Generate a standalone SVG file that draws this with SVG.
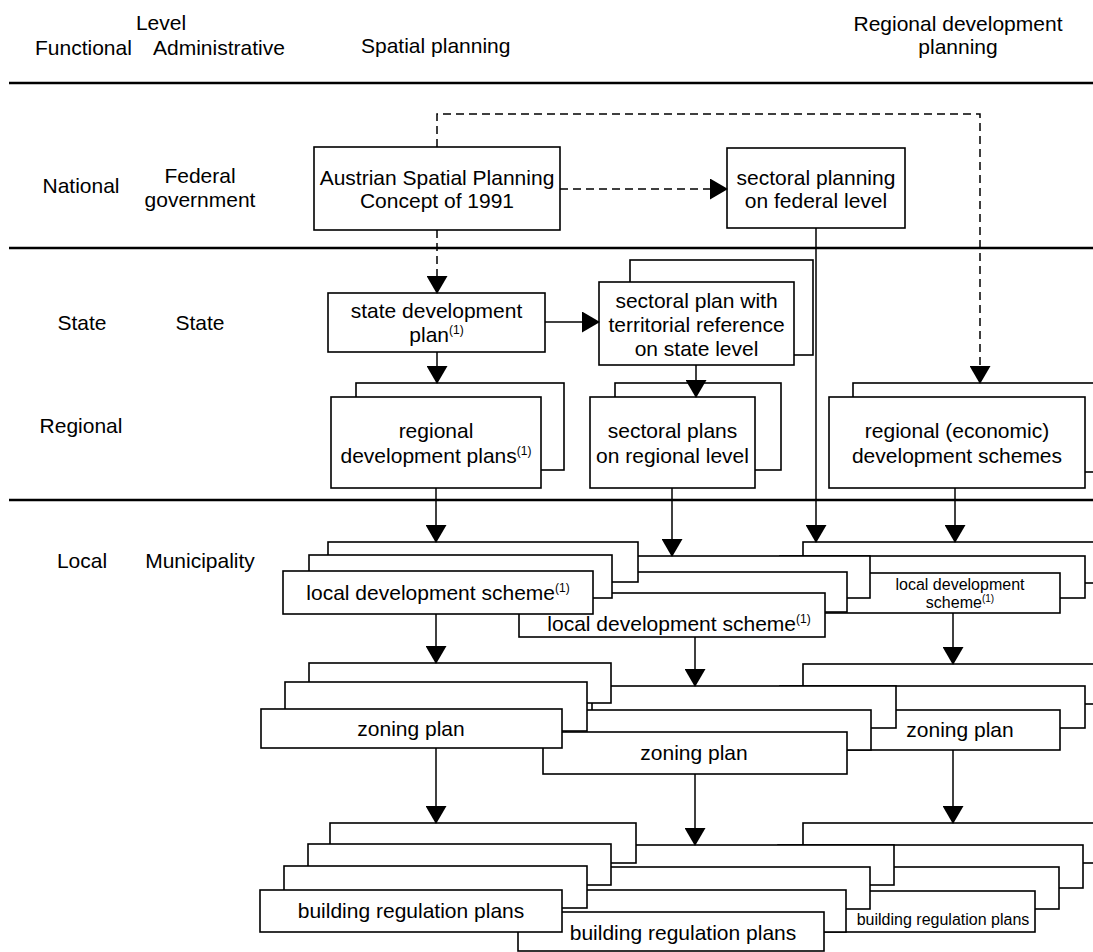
<svg xmlns="http://www.w3.org/2000/svg" width="1093" height="952" viewBox="0 0 1093 952">
<defs>
  <marker id="ah" markerUnits="userSpaceOnUse" markerWidth="18" markerHeight="21" viewBox="0 0 18 21" refX="17" refY="10.5" orient="auto">
    <path d="M0,0 L18,10.5 L0,21 Z" fill="#000"/>
  </marker>
</defs>
<style>
  .t{font-family:"Liberation Sans",Arial,Helvetica,sans-serif;font-size:21px;fill:#000}
  .s{font-size:16px}
  .c{text-anchor:middle}
  .b{fill:#fff;stroke:#000;stroke-width:1.6}
  .ln{fill:none;stroke:#000;stroke-width:2.4}
  .k{fill:none;stroke:#000;stroke-width:1.5}
  .d{stroke-dasharray:8 5}
  .a{marker-end:url(#ah)}
</style>
<rect width="1093" height="952" fill="#fff"/>

<!-- column headings -->
<g id="headings" class="t">
  <text x="161" y="30" class="c">Level</text>
  <text x="35" y="55">Functional</text>
  <text x="153" y="55">Administrative</text>
  <text x="361" y="53">Spatial planning</text>
  <text x="958" y="31" class="c">Regional development</text>
  <text x="958" y="54" class="c">planning</text>
</g>

<!-- level labels -->
<g id="levels" class="t c">
  <text x="81" y="193">National</text>
  <text x="200" y="183">Federal</text>
  <text x="200" y="207">government</text>
  <text x="82" y="330">State</text>
  <text x="200" y="330">State</text>
  <text x="81" y="433">Regional</text>
  <text x="82" y="568">Local</text>
  <text x="200" y="568">Municipality</text>
</g>

<!-- horizontal dividers -->
<g id="dividers" class="ln">
  <path d="M9,83 H1093"/>
  <path d="M9,248 H1093"/>
  <path d="M9,500 H1093"/>
</g>

<!-- national level -->
<g id="austrian-concept">
  <rect class="b" x="314" y="147" width="246" height="83"/>
  <text class="t c" x="437" y="185">Austrian Spatial Planning</text>
  <text class="t c" x="437" y="208">Concept of 1991</text>
</g>
<g id="sectoral-federal">
  <rect class="b" x="727" y="148" width="178" height="80"/>
  <text class="t c" x="816" y="185">sectoral planning</text>
  <text class="t c" x="816" y="208">on federal level</text>
</g>

<!-- state level -->
<g id="state-development-plan">
  <rect class="b" x="328" y="293" width="217" height="59"/>
  <text class="t c" x="436.5" y="318">state development</text>
  <text class="t c" x="436.5" y="342">plan<tspan font-size="12" dy="-8">(1)</tspan></text>
</g>
<g id="sectoral-state">
  <rect class="b" x="630" y="260" width="183" height="95"/>
  <rect class="b" x="599" y="282" width="195" height="83"/>
  <text class="t c" x="696.5" y="308">sectoral plan with</text>
  <text class="t c" x="696.5" y="332">territorial reference</text>
  <text class="t c" x="696.5" y="356">on state level</text>
</g>

<!-- regional level -->
<g id="regional-development-plans">
  <rect class="b" x="356" y="383" width="208" height="87"/>
  <rect class="b" x="331" y="397" width="210" height="91"/>
  <text class="t c" x="436" y="438">regional</text>
  <text class="t c" x="436" y="463">development plans<tspan font-size="12" dy="-8">(1)</tspan></text>
</g>
<g id="sectoral-regional">
  <rect class="b" x="615" y="383" width="166" height="87"/>
  <rect class="b" x="590" y="397" width="165" height="91"/>
  <text class="t c" x="672.5" y="438">sectoral plans</text>
  <text class="t c" x="672.5" y="463">on regional level</text>
</g>
<g id="regional-economic">
  <rect class="b" x="853" y="383" width="270" height="89"/>
  <rect class="b" x="829" y="397" width="256" height="91"/>
  <text class="t c" x="957" y="438">regional (economic)</text>
  <text class="t c" x="957" y="463">development schemes</text>
</g>

<!-- local level: development schemes (right stack drawn first, left stack on top) -->
<g id="lds-right">
  <rect class="b" x="803" y="542" width="317" height="41"/>
  <rect class="b" x="780" y="556" width="305" height="42"/>
  <rect class="b" x="755" y="573" width="305" height="40"/>
  <text class="t s c" x="960" y="590">local development</text>
  <text class="t s c" x="960" y="608">scheme<tspan font-size="10" dy="-6">(1)</tspan></text>
</g>
<g id="lds-middle">
  <rect class="b" x="590" y="556" width="280" height="42"/>
  <rect class="b" x="566" y="572" width="281" height="40"/>
  <rect class="b" x="519" y="593" width="306" height="44"/>
  <text class="t c" x="679" y="631">local development scheme<tspan font-size="12" dy="-8">(1)</tspan></text>
</g>
<g id="lds-left">
  <rect class="b" x="328" y="542" width="310" height="40"/>
  <rect class="b" x="309" y="555" width="303" height="43"/>
  <rect class="b" x="283" y="571" width="310" height="43"/>
  <text class="t c" x="438" y="600">local development scheme<tspan font-size="12" dy="-8">(1)</tspan></text>
</g>

<!-- local level: zoning plans -->
<g id="zoning-right">
  <rect class="b" x="803" y="664" width="317" height="40"/>
  <rect class="b" x="780" y="686" width="305" height="42"/>
  <rect class="b" x="755" y="710" width="305" height="40"/>
  <text class="t c" x="960" y="737">zoning plan</text>
</g>
<g id="zoning-middle">
  <rect class="b" x="592" y="686" width="304" height="42"/>
  <rect class="b" x="566" y="710" width="305" height="40"/>
  <rect class="b" x="543" y="732" width="304" height="42"/>
  <text class="t c" x="694" y="760">zoning plan</text>
</g>
<g id="zoning-left">
  <rect class="b" x="309" y="663" width="302" height="40"/>
  <rect class="b" x="285" y="682" width="302" height="49"/>
  <rect class="b" x="261" y="709" width="301" height="39"/>
  <text class="t c" x="411" y="736">zoning plan</text>
</g>

<!-- local level: building regulation plans -->
<g id="building-right">
  <rect class="b" x="803" y="823" width="317" height="40"/>
  <rect class="b" x="778" y="845" width="305" height="43"/>
  <rect class="b" x="754" y="867" width="305" height="42"/>
  <rect class="b" x="730" y="891" width="305" height="41"/>
  <text class="t s c" x="943" y="925">building regulation plans</text>
</g>
<g id="building-middle">
  <rect class="b" x="590" y="845" width="304" height="40"/>
  <rect class="b" x="566" y="867" width="304" height="42"/>
  <rect class="b" x="542" y="890" width="304" height="42"/>
  <rect class="b" x="518" y="912" width="306" height="39"/>
  <text class="t c" x="683" y="940">building regulation plans</text>
</g>
<g id="building-left">
  <rect class="b" x="330" y="823" width="306" height="40"/>
  <rect class="b" x="308" y="844" width="303" height="41"/>
  <rect class="b" x="284" y="866" width="303" height="42"/>
  <rect class="b" x="260" y="890" width="302" height="42"/>
  <text class="t c" x="411" y="918">building regulation plans</text>
</g>

<!-- connectors -->
<g id="connectors" class="k">
  <path class="d a" d="M437,147 V114 H980 V383"/>
  <path class="d a" d="M437,230 V293"/>
  <path class="d a" d="M560,189 H727"/>
  <path class="a" d="M545,322 H599"/>
  <path class="a" d="M437,352 V383"/>
  <path class="a" d="M696,365 V397"/>
  <path class="a" d="M816,228 V542"/>
  <path class="a" d="M436,488 V542"/>
  <path class="a" d="M672,488 V556"/>
  <path class="a" d="M955,488 V542"/>
  <path class="a" d="M436,614 V663"/>
  <path class="a" d="M695,637 V686"/>
  <path class="a" d="M953,613 V664"/>
  <path class="a" d="M436,748 V823"/>
  <path class="a" d="M695,774 V845"/>
  <path class="a" d="M953,750 V823"/>
</g>
</svg>
